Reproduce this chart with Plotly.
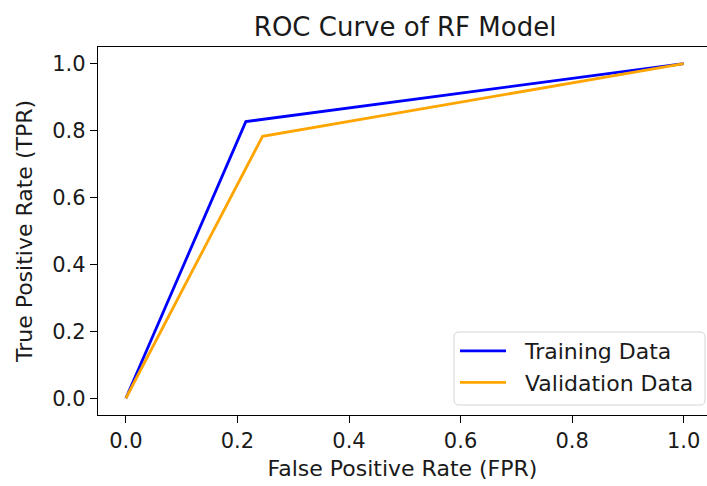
import plotly.graph_objects as go

# ROC points (FPR, TPR) for the random forest model
train_fpr = [0.0, 0.215, 1.0]
train_tpr = [0.0, 0.827, 1.0]
val_fpr = [0.0, 0.245, 1.0]
val_tpr = [0.0, 0.783, 1.0]

tick_vals = [0.0, 0.2, 0.4, 0.6, 0.8, 1.0]
tick_text = ["0.0", "0.2", "0.4", "0.6", "0.8", "1.0"]
series_names = ["Training Data", "Validation Data"]

FONT = "DejaVu Sans"
INK = "#1a1a1a"
NBSP = "\u00a0"

W, H = 707, 486
M_L, M_R, M_T, M_B = 98, 0, 47, 71
PW, PH = W - M_L - M_R, H - M_T - M_B

fig = go.Figure()
fig.add_trace(go.Scatter(x=train_fpr, y=train_tpr, mode="lines",
                         name=NBSP * 2 + series_names[0],
                         line=dict(color="#0000ff", width=2.8)))
fig.add_trace(go.Scatter(x=val_fpr, y=val_tpr, mode="lines",
                         name=NBSP * 2 + series_names[1],
                         line=dict(color="#ffa500", width=2.8)))

axis_common = dict(
    showgrid=False, zeroline=False,
    showline=True, linecolor="black", linewidth=1.3,
    ticks="outside", ticklen=7, tickwidth=1.3, tickcolor="black",
    tickvals=tick_vals, ticktext=tick_text,
    tickfont=dict(family=FONT, size=21, color=INK),
)

# rounded legend frame (pixel box converted to paper units)
def px_x(p):
    return (p - M_L) / PW

def px_y(p):
    return (H - M_B - p) / PH

x0, x1, y0, y1, r = 454, 705, 332, 405, 5
path = (
    f"M {px_x(x0 + r)},{px_y(y0)} L {px_x(x1 - r)},{px_y(y0)} "
    f"Q {px_x(x1)},{px_y(y0)} {px_x(x1)},{px_y(y0 + r)} "
    f"L {px_x(x1)},{px_y(y1 - r)} Q {px_x(x1)},{px_y(y1)} {px_x(x1 - r)},{px_y(y1)} "
    f"L {px_x(x0 + r)},{px_y(y1)} Q {px_x(x0)},{px_y(y1)} {px_x(x0)},{px_y(y1 - r)} "
    f"L {px_x(x0)},{px_y(y0 + r)} Q {px_x(x0)},{px_y(y0)} {px_x(x0 + r)},{px_y(y0)} Z"
)
fig.add_shape(type="path", path=path, xref="paper", yref="paper",
              fillcolor="rgba(255,255,255,0.85)", line=dict(color="#d4d4d4", width=1),
              layer="above")

fig.update_layout(
    width=W, height=H,
    margin=dict(l=M_L, r=M_R, t=M_T, b=M_B),
    paper_bgcolor="white", plot_bgcolor="white",
    title=dict(text="ROC Curve of RF Model", x=0.573, xanchor="center",
               y=1 - 27 / 486, yanchor="middle", yref="container",
               font=dict(family=FONT, size=26, color=INK)),
    xaxis=dict(range=[-0.05, 1.0418], mirror=True,
               title=dict(text="False Positive Rate (FPR)", standoff=8,
                          font=dict(family=FONT, size=22, color=INK)),
               **axis_common),
    yaxis=dict(range=[-0.05, 1.05], mirror=False,
               title=dict(text="True Positive Rate (TPR)", standoff=13,
                          font=dict(family=FONT, size=22, color=INK)),
               **axis_common),
    legend=dict(x=px_x(x1 - 6), y=px_y(y1 - 1), xanchor="right", yanchor="bottom",
                bgcolor="rgba(0,0,0,0)", borderwidth=0,
                font=dict(family=FONT, size=22, color=INK),
                itemwidth=46, tracegroupgap=0),
    showlegend=True,
)

fig.write_html("out.html")
